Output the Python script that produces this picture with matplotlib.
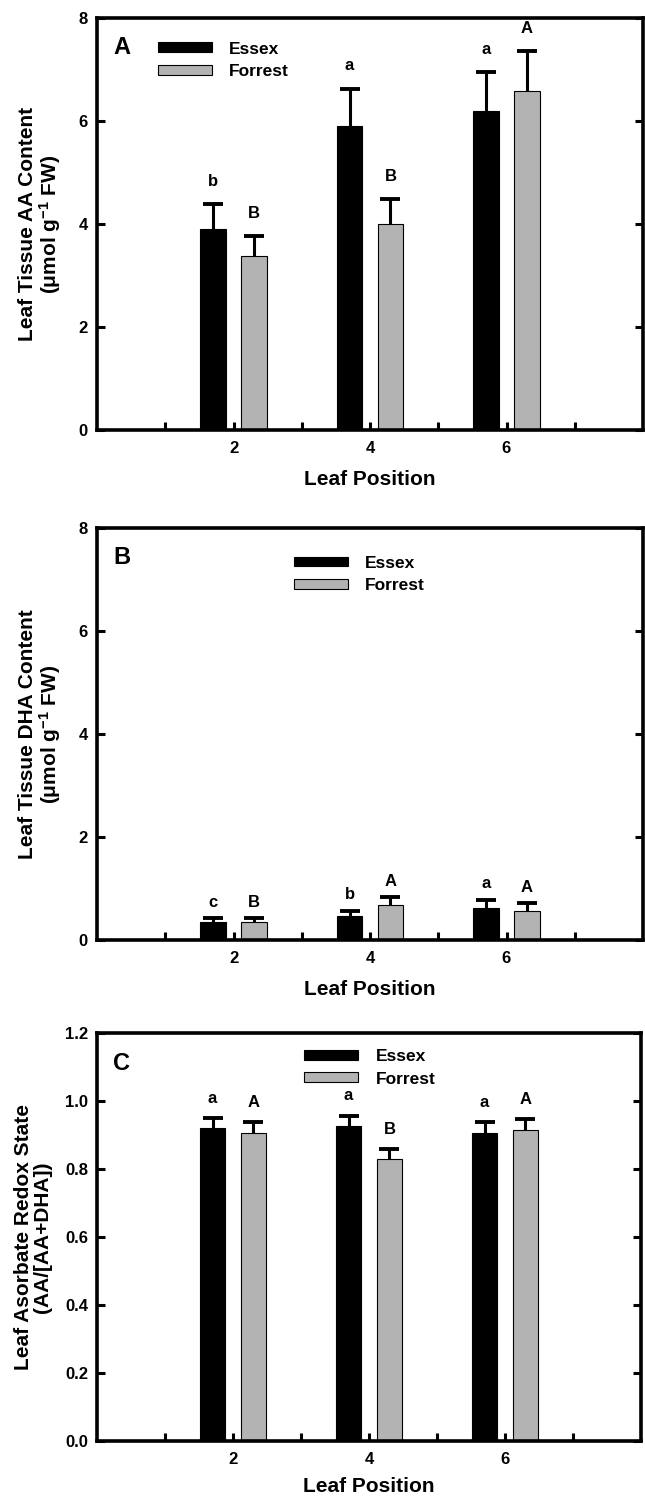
import numpy as np
import matplotlib
matplotlib.use("Agg")
import matplotlib.pyplot as plt

plt.rcParams['font.family'] = ['Liberation Sans', 'DejaVu Sans']
plt.rcParams['font.weight'] = 'bold'
plt.rcParams['mathtext.default'] = 'regular'

# data
positions = [2, 4, 6]
x_ticks = [1, 2, 3, 4, 5, 6, 7]
x_ticklabels = ['', '2', '', '4', '', '6', '']
cultivars = ['Essex', 'Forrest']

aa_essex = [3.90, 5.91, 6.20]
aa_essex_err = [0.48, 0.72, 0.75]
aa_forrest = [3.37, 4.00, 6.58]
aa_forrest_err = [0.40, 0.48, 0.78]
aa_letters_essex = ['b', 'a', 'a']
aa_letters_forrest = ['B', 'B', 'A']

dha_essex = [0.34, 0.47, 0.63]
dha_essex_err = [0.08, 0.10, 0.15]
dha_forrest = [0.34, 0.67, 0.57]
dha_forrest_err = [0.08, 0.16, 0.14]
dha_letters_essex = ['c', 'b', 'a']
dha_letters_forrest = ['B', 'A', 'A']

redox_essex = [0.920, 0.927, 0.907]
redox_essex_err = [0.029, 0.029, 0.030]
redox_forrest = [0.907, 0.830, 0.915]
redox_forrest_err = [0.030, 0.028, 0.031]
redox_letters_essex = ['a', 'a', 'a']
redox_letters_forrest = ['A', 'B', 'A']

y_ticks_ab = [0, 2, 4, 6, 8]
y_ticks_c = [0.0, 0.2, 0.4, 0.6, 0.8, 1.0, 1.2]

colors = ['black', '#b3b3b3']
W, H = 645, 1496
fig = plt.figure(figsize=(W / 100, H / 100), dpi=100)


def panel(rect_px, panel_letter, essex, essex_err, forrest, forrest_err,
          let_e, let_f, yticks, ylim, yfmt, ylabel, ylabel_x, leg_xy, let_off,
          xlabelpad=10):
    left, top, right, bottom = rect_px
    ax = fig.add_axes([left / W, 1 - bottom / H, (right - left) / W, (bottom - top) / H])
    pos = np.array(positions, dtype=float)
    offset = 0.3
    width = 0.37
    series = [(essex, essex_err, let_e), (forrest, forrest_err, let_f)]
    for i, (vals, errs, lets) in enumerate(series):
        xs = pos + (-offset if i == 0 else offset)
        ax.bar(xs, vals, width, color=colors[i], edgecolor='black', linewidth=0.8,
               label=cultivars[i], zorder=2)
        eb = ax.errorbar(xs, vals, yerr=[np.zeros(len(vals)), errs], fmt='none',
                         ecolor='black', elinewidth=2.2, capsize=7.5, capthick=2.8,
                         zorder=3)
        eb[1][0].set_visible(False)  # only upper caps
        for x, v, e, l in zip(xs, vals, errs, lets):
            ax.annotate(l, (x, v + e), xytext=(0, let_off), textcoords='offset points',
                        ha='center', va='bottom', fontsize=12, fontweight='bold')

    ax.set_xlim(0, 8)
    ax.set_ylim(*ylim)
    ax.set_xticks(x_ticks)
    ax.set_xticklabels(x_ticklabels)
    ax.set_yticks(yticks)
    ax.set_yticklabels([yfmt.format(t) for t in yticks])
    ax.tick_params(axis='both', direction='in', length=5.5, width=2.2,
                   labelsize=12, right=True, top=False)
    ax.tick_params(axis='y', pad=6.5)
    ax.tick_params(axis='x', pad=8)
    for s in ax.spines.values():
        s.set_linewidth(2.6)
    for t in ax.get_xticklabels() + ax.get_yticklabels():
        t.set_fontweight('bold')

    ax.set_xlabel('Leaf Position', fontsize=15, fontweight='bold', labelpad=xlabelpad)
    ax.set_ylabel(ylabel, fontsize=15, fontweight='bold', linespacing=1.0)
    ax.yaxis.set_label_coords(ylabel_x, 0.5)

    ax.text(0.045, 1 - 30 / (bottom - top), panel_letter, transform=ax.transAxes,
            ha='center', va='center', fontsize=17, fontweight='bold')

    ax.legend(loc='center left', bbox_to_anchor=leg_xy, frameon=False,
              borderpad=0, borderaxespad=0, handlelength=3.1, handleheight=0.5,
              handletextpad=1.0, labelspacing=0.45, prop={'size': 12.5, 'weight': 'bold'})
    return ax


panel((97, 18, 643, 430), 'A', aa_essex, aa_essex_err, aa_forrest, aa_forrest_err,
      aa_letters_essex, aa_letters_forrest, y_ticks_ab, (0, 8), '{:g}',
      'Leaf Tissue AA Content\n(\u03bcmol g$^{-1}$ FW)', -0.062, (0.112, 0.897), 11)

panel((97, 528, 643, 940), 'B', dha_essex, dha_essex_err, dha_forrest, dha_forrest_err,
      dha_letters_essex, dha_letters_forrest, y_ticks_ab, (0, 8), '{:g}',
      'Leaf Tissue DHA Content\n(\u03bcmol g$^{-1}$ FW)', -0.062, (0.361, 0.887), 6)

panel((97, 1033, 641, 1441), 'C', redox_essex, redox_essex_err, redox_forrest, redox_forrest_err,
      redox_letters_essex, redox_letters_forrest, y_ticks_c, (0, 1.2), '{:.1f}',
      'Leaf Asorbate Redox State\n(AA/[AA+DHA])', -0.082, (0.381, 0.915), 9,
      xlabelpad=7)

fig.savefig('out.png', dpi=100)
